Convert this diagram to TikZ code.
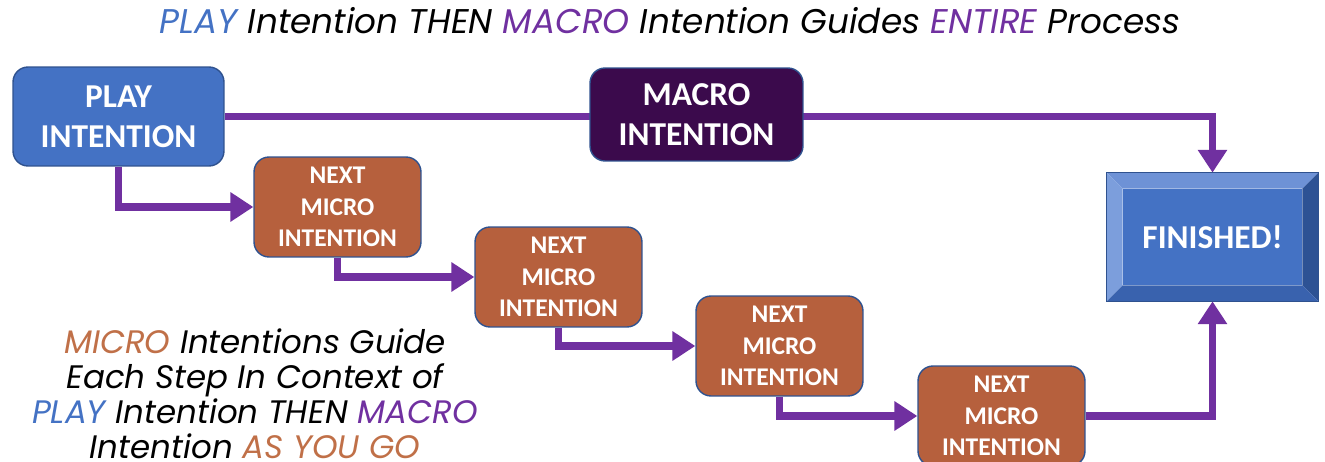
\documentclass[tikz,border=0pt]{standalone}
\usepackage{fontspec}
\setmainfont{Carlito}
\newfontfamily\titlefont{Poppins}
\usetikzlibrary{arrows.meta,calc,backgrounds}
\definecolor{pblue}{HTML}{4472C4}
\definecolor{ppurple}{HTML}{7030A0}
\definecolor{macrofill}{HTML}{3B0A4C}
\definecolor{microfill}{HTML}{B6603D}
\definecolor{borderc}{HTML}{2F528F}
\definecolor{orangetxt}{HTML}{C07048}
\definecolor{bevtop}{HTML}{6E92D6}
\definecolor{bevleft}{HTML}{7C9EDC}
\definecolor{bevright}{HTML}{2D5294}
\definecolor{bevbot}{HTML}{3962AE}
\tikzset{
  box/.style={draw=borderc, line width=0.8pt, rounded corners=0.3cm, text=white,
    font=\bfseries, align=center, inner sep=0pt},
  playbox/.style={box, fill=pblue, minimum width=4.22cm, minimum height=1.98cm, font=\bfseries\fontsize{19}{23}\selectfont},
  macrobox/.style={box, fill=macrofill, minimum width=4.26cm, minimum height=1.86cm, font=\bfseries\fontsize{19}{23}\selectfont},
  microbox/.style={box, fill=microfill, minimum width=3.34cm, minimum height=2.0cm, font=\bfseries\fontsize{14.5}{18}\selectfont},
  flow/.style={draw=ppurple, line width=4.5pt},
  flowarrow/.style={flow, -{Triangle[width=16pt,length=13pt]}},
}
\begin{document}
\begin{tikzpicture}[x=0.02cm,y=-0.02cm]
\useasboundingbox (0,0) rectangle (1325,462);
\node[playbox] (play) at (118.5,116.5) {PLAY\\INTENTION};
\node[macrobox] (macro) at (696.5,114.5) {MACRO\\INTENTION};
\node[microbox] (m1) at (337.5,207) {NEXT\\MICRO\\INTENTION};
\node[microbox] (m2) at (558.5,277) {NEXT\\MICRO\\INTENTION};
\node[microbox] (m3) at (779.5,346) {NEXT\\MICRO\\INTENTION};
\node[microbox] (m4) at (1001.5,416) {NEXT\\MICRO\\INTENTION};
% finished bevel box
\node[minimum width=4.22cm, minimum height=2.56cm, inner sep=0pt] (fin) at (1212.5,237) {};
\coordinate (iNW) at ($(fin.north west)+(16,16)$);
\coordinate (iNE) at ($(fin.north east)+(-16,16)$);
\coordinate (iSW) at ($(fin.south west)+(16,-16)$);
\coordinate (iSE) at ($(fin.south east)+(-16,-16)$);
\fill[bevtop] (fin.north west) -- (fin.north east) -- (iNE) -- (iNW) -- cycle;
\fill[bevleft] (fin.north west) -- (iNW) -- (iSW) -- (fin.south west) -- cycle;
\fill[bevright] (fin.north east) -- (fin.south east) -- (iSE) -- (iNE) -- cycle;
\fill[bevbot] (fin.south west) -- (iSW) -- (iSE) -- (fin.south east) -- cycle;
\fill[pblue] (iNW) rectangle (iSE);
\draw[borderc, line width=0.6pt] (fin.north west) rectangle (fin.south east);
\node[text=white, font=\bfseries\fontsize{19}{23}\selectfont] (fintext) at (fin.center) {FINISHED!};
% connectors
\begin{scope}[on background layer]
\draw[flowarrow] (play.east) -| (fin.north);
\end{scope}
\draw[flowarrow] (play.south) |- (m1.west);
\draw[flowarrow] (m1.south) |- (m2.west);
\draw[flowarrow] (m2.south) |- (m3.west);
\draw[flowarrow] (m3.south) |- (m4.west);
\draw[flowarrow] (m4.east) -| (fin.south);
% titles
\node[font=\titlefont\itshape\fontsize{19.5}{23}\selectfont] (title) at (670,21)
  {\textcolor{pblue}{PLAY} Intention THEN \textcolor{ppurple}{MACRO} Intention Guides \textcolor{ppurple}{ENTIRE} Process};
\node[font=\titlefont\itshape\fontsize{18.5}{20}\selectfont, align=center, inner sep=0pt] (note) at (255,394)
  {\textcolor{orangetxt}{MICRO} Intentions Guide\\Each Step In Context of\\\textcolor{pblue}{PLAY} Intention THEN \textcolor{ppurple}{MACRO}\\Intention \textcolor{orangetxt}{AS YOU GO}};
\end{tikzpicture}
\end{document}
